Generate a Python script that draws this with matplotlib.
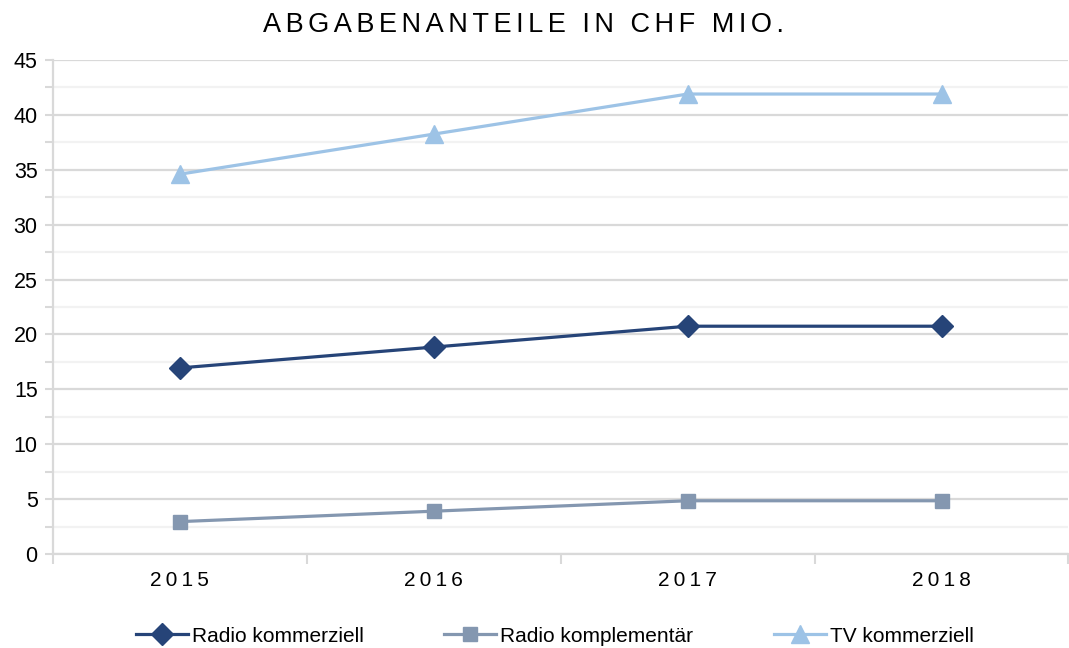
import matplotlib
matplotlib.use("Agg")
import matplotlib.pyplot as plt
from matplotlib.ticker import MultipleLocator

plt.rcParams['font.family'] = ['Liberation Sans', 'DejaVu Sans']

years = ["2015", "2016", "2017", "2018"]
radio_kommerziell = [16.95, 18.85, 20.75, 20.75]
radio_komplementaer = [2.95, 3.9, 4.85, 4.85]
tv_kommerziell = [34.6, 38.25, 41.9, 41.9]

title = "ABGABENANTEILE IN CHF MIO."
series_names = ["Radio kommerziell", "Radio komplementär", "TV kommerziell"]
colors = ["#264478", "#8497B0", "#9DC3E6"]
markers = ["D", "s", "^"]
msizes = [11, 10, 13]

fig = plt.figure(figsize=(10.69, 6.48), dpi=100)
ax = fig.add_axes([53/1069, 94/648, 1 - 53/1069 - 0.0005, (554-60)/648])

x = list(range(len(years)))
for vals, name, c, m, ms in zip([radio_kommerziell, radio_komplementaer, tv_kommerziell],
                                series_names, colors, markers, msizes):
    ax.plot(x, vals, color=c, lw=2.3, marker=m, markersize=ms, label=name,
            markeredgecolor=c, zorder=3)

ax.set_xlim(-0.5, len(years) - 0.5)
ax.set_ylim(0, 45)
ax.yaxis.set_major_locator(MultipleLocator(5))
ax.yaxis.set_minor_locator(MultipleLocator(2.5))
ax.grid(which='major', axis='y', color='#D9D9D9', lw=1.6, zorder=0)
ax.grid(which='minor', axis='y', color='#F2F2F2', lw=1.6, zorder=0)
ax.set_axisbelow(True)

ax.set_xticks(x)
ax.set_xticklabels(["\u2009".join(y) for y in years], fontsize=15)
ax.set_xticks([i + 0.5 for i in range(-1, len(years))], minor=True)
ax.tick_params(axis='x', which='major', length=0, pad=12)
ax.tick_params(axis='x', which='minor', length=7, color='#D9D9D9', width=1.5)
ax.tick_params(axis='y', which='both', length=6, color='#D9D9D9', width=1.5, labelsize=15.5, pad=5)

for s in ['top', 'right']:
    ax.spines[s].set_visible(False)
ax.spines['left'].set_color('#D9D9D9')
ax.spines['left'].set_linewidth(1.6)
ax.spines['bottom'].set_color('#D9D9D9')
ax.spines['bottom'].set_linewidth(1.6)

spaced_title = "\u200a\u200a".join(title)
fig.text(0.490, 1 - 25/648, spaced_title, ha='center', va='center', fontsize=19.5)

leg = fig.legend(loc='center', bbox_to_anchor=(0.519, 1 - 636/648), ncol=3, frameon=False,
                 fontsize=15, handlelength=2.5, columnspacing=3.85, handletextpad=0.2)

fig.savefig("out.png", dpi=100)
